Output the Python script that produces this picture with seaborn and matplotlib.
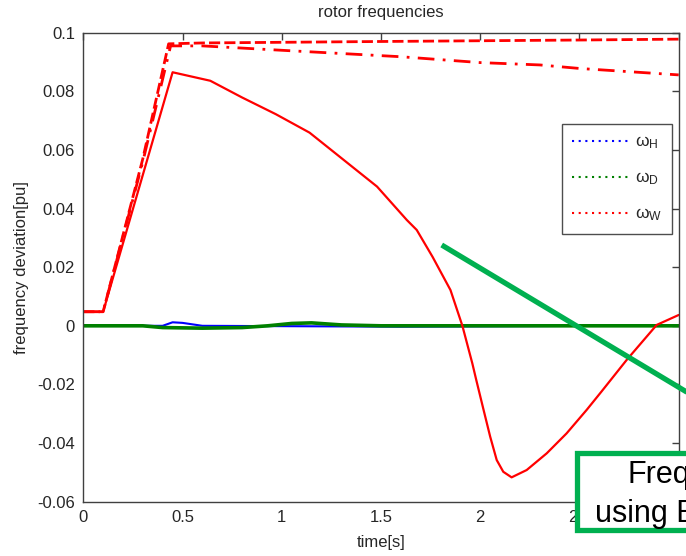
import numpy as np
import pandas as pd
import matplotlib.pyplot as plt
import seaborn as sns
from matplotlib.lines import Line2D
from matplotlib.patches import Rectangle

# values
t_wind = [0, 0.1, 0.45, 0.64, 0.8, 0.97, 1.14, 1.31, 1.48, 1.63, 1.68, 1.76, 1.85,
          1.91, 1.96, 1.98, 2.015, 2.05, 2.083, 2.116, 2.158, 2.234, 2.335, 2.435,
          2.536, 2.61, 2.737, 2.889, 3.0]
w_wind = [0.0048, 0.0048, 0.0865, 0.0836, 0.0779, 0.0722, 0.0659, 0.0567, 0.0475,
          0.0361, 0.0327, 0.0235, 0.0122, 0.0, -0.0128, -0.0185, -0.0282, -0.0378,
          -0.0458, -0.0498, -0.0517, -0.0492, -0.0435, -0.0367, -0.0287, -0.0225,
          -0.0117, 0.0003, 0.0037]

t_wind_dd = [0, 0.1, 0.3, 0.44, 0.6, 1.0, 1.6, 2.0, 2.3, 2.5, 3.0]
w_wind_dd = [0.0048, 0.0048, 0.056, 0.0955, 0.0955, 0.094, 0.0918, 0.0898, 0.089, 0.0878, 0.0856]

t_wind_d = [0, 0.1, 0.3, 0.43, 0.6, 1.5, 2.5, 3.0]
w_wind_d = [0.0048, 0.0048, 0.057, 0.0962, 0.0965, 0.097, 0.0975, 0.0978]

t_hydro = [0, 0.4, 0.45, 0.5, 0.55, 0.6, 1.6, 2.6, 3.0]
w_hydro = [0, 0, 0.0012, 0.001, 0.0005, 0, -0.0003, 0, 0]

t_diesel = [0, 0.3, 0.4, 0.6, 0.8, 0.93, 1.05, 1.15, 1.3, 1.5, 2.0, 3.0]
w_diesel = [0, 0, -0.0006, -0.0008, -0.0006, 0, 0.0008, 0.001, 0.0003, 0, 0, 0]

x_ticks = [0, 0.5, 1, 1.5, 2, 2.5, 3]
x_ticklabels = ['0', '0.5', '1', '1.5', '2', '2.5', '']  # "3" is hidden under the callout
y_ticklabels = ['-0.06', '-0.04', '-0.02', '0', '0.02', '0.04', '0.06', '0.08', '0.1']
legend_labels = [r'$\omega_H$', r'$\omega_D$', r'$\omega_W$']

sns.set_style('white')
plt.rcParams['font.family'] = ['Liberation Sans', 'DejaVu Sans']
plt.rcParams['mathtext.fontset'] = 'custom'
plt.rcParams['mathtext.rm'] = 'Liberation Sans'
plt.rcParams['mathtext.it'] = 'Liberation Sans'

txt = '#262626'
spine = '#404040'

fig = plt.figure(figsize=(6.86, 5.56), dpi=100)
ax = fig.add_axes([0.1214, 0.0977, 0.868, 0.8435])

sns.lineplot(x=t_hydro, y=w_hydro, ax=ax, color='#0000ff', lw=1.5)
sns.lineplot(x=t_diesel, y=w_diesel, ax=ax, color='#008000', lw=2.6)
sns.lineplot(x=t_wind_d, y=w_wind_d, ax=ax, color='#ff0000', lw=2, linestyle=(0, (4, 1.5)))
sns.lineplot(x=t_wind_dd, y=w_wind_dd, ax=ax, color='#ff0000', lw=2, linestyle=(0, (6, 3, 1, 3)))
sns.lineplot(x=t_wind, y=w_wind, ax=ax, color='#ff0000', lw=1.6)

ax.set_xlim(0, 3)
ax.set_ylim(-0.06, 0.1)
ax.set_xticks(x_ticks)
ax.set_xticklabels(x_ticklabels)
ax.set_yticks(np.arange(-0.06, 0.101, 0.02))
ax.set_yticklabels(y_ticklabels)
ax.tick_params(direction='in', length=5, width=1, colors=spine, labelcolor=txt,
               labelsize=12, top=True, right=True, pad=6)
for s in ax.spines.values():
    s.set_visible(True)
    s.set_color(spine)
    s.set_linewidth(1)

ax.set_title('rotor frequencies', fontsize=12, color=txt, pad=11)
ax.set_xlabel('time[s]', fontsize=12, color=txt, labelpad=7)
ax.set_ylabel('frequency deviation[pu]', fontsize=12, color=txt, labelpad=6)

handles = [Line2D([], [], color=c, lw=1.5, linestyle=(0, (1, 2.2)))
           for c in ['#0000ff', '#008000', '#ff0000']]
leg = ax.legend(handles, legend_labels, loc='upper left', bbox_to_anchor=(0.804, 0.805),
                fontsize=12.5, frameon=True, fancybox=False, handlelength=3.3,
                labelspacing=1.1, borderpad=0.6, handletextpad=0.3, borderaxespad=0)
leg.get_frame().set_edgecolor('#202020')
leg.get_frame().set_linewidth(1)

# green overlay annotation (slide callout)
fig.add_artist(Line2D([441.7 / 686, 700 / 686], [1 - 245 / 556, 1 - 400 / 556],
                      color='#00b050', lw=3.8, solid_capstyle='butt'))
fig.add_artist(Rectangle((577 / 686, 1 - 530 / 556), 0.2, 77 / 556,
                         facecolor='white', edgecolor='#00b050', lw=3.8))
fig.text(627 / 686, 1 - 483.5 / 556, 'Frequency', fontsize=22, color='black',
         ha='left', va='baseline')
fig.text(595 / 686, 1 - 521.7 / 556, 'using ESS', fontsize=22, color='black',
         ha='left', va='baseline')

fig.savefig('out.png', dpi=100)
